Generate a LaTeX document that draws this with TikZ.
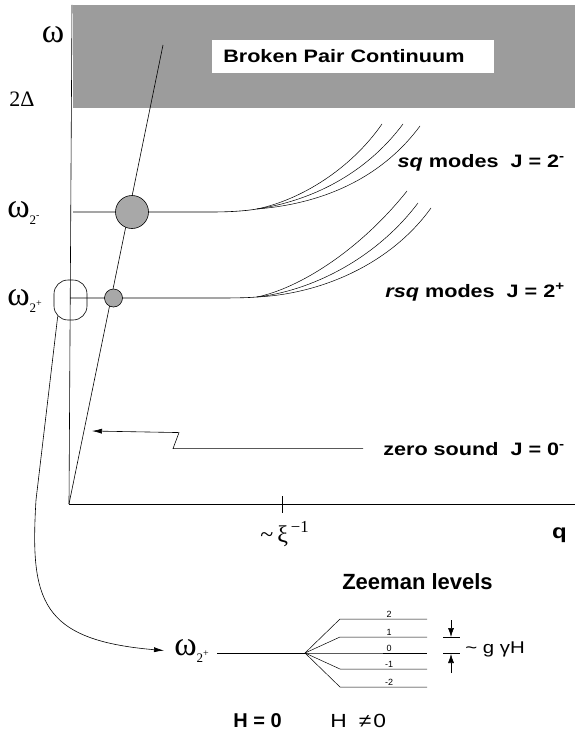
\documentclass[tikz,border=0pt]{standalone}
\usepackage{fontspec}
\setmainfont{Liberation Serif}
\newfontfamily\widesans[FakeStretch=1.2]{Liberation Sans}
\newfontfamily\plainsans{Liberation Sans}
\usetikzlibrary{arrows.meta}
\definecolor{HalfTone}{HTML}{9C9C9C}
\definecolor{DotGray}{HTML}{A8A8A8}
\newcommand{\wsub}[1]{ω\raisebox{-7pt}{\fontsize{13}{13}\selectfont 2\raisebox{6pt}{\fontsize{10}{10}\selectfont #1}}}

\begin{document}
\begin{tikzpicture}[x=1pt, y=-1pt, line width=0.6pt,
  axislabel/.style={inner sep=0pt, font=\fontsize{34}{36}\selectfont},
  modelabel/.style={anchor=base east, inner sep=0pt, font=\widesans\bfseries\fontsize{18}{20}\selectfont},
  bottomlabel/.style={anchor=base west, inner sep=0pt, font=\plainsans\bfseries\fontsize{20}{24}\selectfont},
  levellabel/.style={anchor=south, inner sep=1pt, font=\plainsans\fontsize{9}{10}\selectfont},
  branch/.style={line width=0.5pt},
  flow/.style={-{Latex[length=10pt,width=5pt]}, line width=0.6pt},
  gap/.style={-{Latex[length=9pt,width=6pt]}, line width=0.6pt}
]
\useasboundingbox (0,0) rectangle (578,733);
\fill[HalfTone] (73,5) rectangle (575,108);
\node[fill=white, anchor=west, inner xsep=11pt, text width=260pt, align=left, minimum height=33pt,
  font=\widesans\bfseries\fontsize{18}{20}\selectfont] (cont) at (212,56.5) {Broken Pair Continuum};

\coordinate (O) at (69,504);
\draw (O) -- (72,5);
\draw (O) -- (575,504);
\draw (282,496) -- (282,513);
\draw (O) -- (163,45);

\draw (73,212) -- (210,212) .. controls (230,212) and (245,211) .. (257,209);
\draw[branch] (257,209) .. controls (300,200) and (350,170) .. (382,124);
\draw[branch] (257,209) .. controls (310,201) and (365,175) .. (403,124);
\draw[branch] (257,209) .. controls (320,204) and (380,180) .. (420,126);

\draw (70,298) -- (210,298) .. controls (230,298) and (245,298) .. (257,297);
\draw[branch] (257,297) .. controls (300,288) and (360,250) .. (407,191);
\draw[branch] (257,297) .. controls (310,291) and (375,260) .. (418,203);
\draw[branch] (257,297) .. controls (320,294) and (390,265) .. (431,208);

\node[circle, draw, fill=DotGray, minimum size=33pt, inner sep=0pt] (sqdot) at (132,212) {};
\node[circle, draw, fill=DotGray, minimum size=18pt, inner sep=0pt] (rsqdot) at (113.5,298) {};
\node[draw, rounded corners=14pt, minimum width=33pt, minimum height=40pt, inner sep=0pt] (oval) at (70.5,300) {};

\node[axislabel] (wlab) at (53,35) {ω};
\node[axislabel, anchor=base west, font=\fontsize{22}{24}\selectfont] (gaplab) at (9,107) {2Δ};
\node[axislabel, anchor=base west] (wminus) at (7,217) {\wsub{-}};
\node[axislabel, anchor=base west] (wplus) at (7,305) {\wsub{+}};

\node[modelabel] (sqlab) at (565,167) {\textit{sq} modes\ \ J = 2\textsuperscript{-}};
\node[modelabel] (rsqlab) at (565,297) {\textit{rsq} modes\ \ J = 2\textsuperscript{+}};
\node[modelabel] (zslab) at (565,455) {zero sound\ \ J = 0\textsuperscript{-}};
\coordinate (zstip) at (92,431);
\draw[flow, shorten <=20pt] (zslab.west) -- ++(-210,0) -- ++(6,-16) -- (zstip);

\node[modelabel, font=\widesans\bfseries\fontsize{20}{22}\selectfont] (qlab) at (567,538) {q};
\node[anchor=base west, inner sep=0pt, font=\fontsize{24}{26}\selectfont] (xilab) at (260,542) {\textasciitilde\,ξ\textsuperscript{\,−1}};

\node[bottomlabel, font=\plainsans\bfseries\fontsize{22}{24}\selectfont] (zeeman) at (342,589) {Zeeman levels};
\node[axislabel, anchor=base west] (wlow) at (174,655) {\wsub{+}};
\draw[flow] ([shift={(4pt,4pt)}]oval.south west) -- (36,500) .. controls (30,600) and (40,640) .. ([xshift=-10pt]wlow.west);

\coordinate (fan) at (305,653);
\draw[shorten <=8pt] (wlow.east |- fan) -- (fan);
\foreach \m/\yy [count=\i] in {2/619,1/637,0/653,-1/669,-2/687}{
  \draw[branch] (fan) -- (340,\yy) -- (427,\yy);
  \node[levellabel] (lvl\i) at (389,\yy) {\m};
}

\draw (443,637.5) -- (460,637.5);
\draw (443,653.5) -- (460,653.5);
\coordinate (gA) at (451,620);
\coordinate (gB) at (451,637);
\coordinate (gC) at (451,673);
\coordinate (gD) at (451,654);
\draw[gap] (gA) -- (gB);
\draw[gap] (gC) -- (gD);
\node[anchor=base west, inner sep=0pt, font=\widesans\fontsize{17}{20}\selectfont] (glab) at (465,653) {\textasciitilde\ g γH};

\node[bottomlabel] (hzero) at (233,727) {H = 0};
\node[bottomlabel, font=\widesans\fontsize{19}{22}\selectfont] (hfield) at (330,727) {H\hspace{12pt}≠\hspace{2pt}0};
\end{tikzpicture}
\end{document}
